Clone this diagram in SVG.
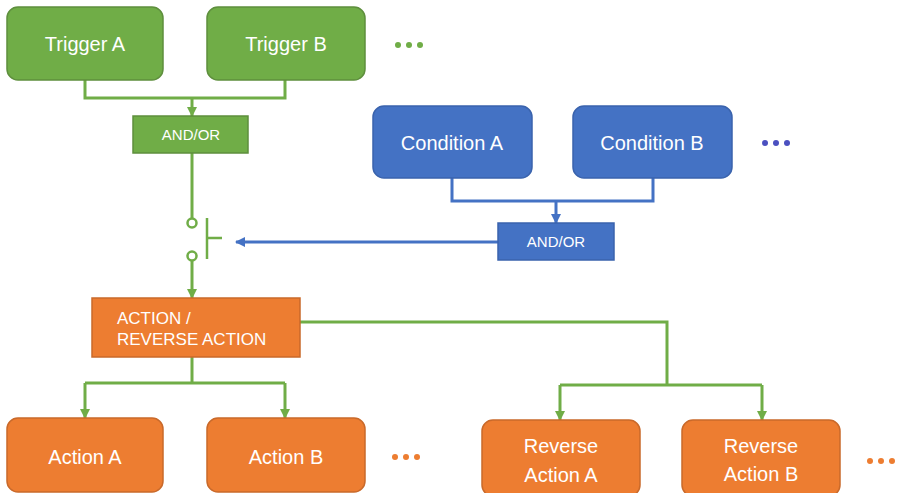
<svg xmlns="http://www.w3.org/2000/svg" width="901" height="493" viewBox="0 0 901 493">
<style>
text{font-family:"Liberation Sans",Arial,sans-serif;fill:#fff;text-anchor:middle}
.big{font-size:20px}
.sm{font-size:15px}
.g{fill:#70AD47;stroke:#5E8F3D;stroke-width:1.5}
.b{fill:#4472C4;stroke:#3A63AD;stroke-width:1.5}
.o{fill:#ED7D31;stroke:#C9692A;stroke-width:1.5}
.gl{fill:none;stroke:#70AD47;stroke-width:3}
.bl{fill:none;stroke:#4472C4;stroke-width:3}
</style>
<defs>
<marker id="ag" viewBox="0 0 10 10" refX="9" refY="5" markerWidth="3.4" markerHeight="3.4" markerUnits="strokeWidth" orient="auto"><path d="M0,0L10,5L0,10Z" fill="#70AD47"/></marker>
<marker id="ab" viewBox="0 0 10 10" refX="9" refY="5" markerWidth="3.4" markerHeight="3.4" markerUnits="strokeWidth" orient="auto"><path d="M0,0L10,5L0,10Z" fill="#4472C4"/></marker>
</defs>
<rect width="901" height="493" fill="#fff"/>
<g id="connectors">
<path class="gl" d="M85,80V98H285V80"/>
<path class="gl" d="M192,98V116" marker-end="url(#ag)"/>
<path class="gl" d="M192,153V219"/>
<circle cx="192" cy="223" r="4.5" fill="#fff" stroke="#70AD47" stroke-width="2.5"/>
<circle cx="192" cy="256" r="4.5" fill="#fff" stroke="#70AD47" stroke-width="2.5"/>
<path class="gl" d="M192,260.5V298" marker-end="url(#ag)"/>
<path d="M207,218V259M207,238H222" fill="none" stroke="#70AD47" stroke-width="2.5"/>
<path class="bl" d="M452,178V201H653V178"/>
<path class="bl" d="M556,201V223" marker-end="url(#ab)"/>
<path class="bl" d="M498,242H236" marker-end="url(#ab)"/>
<path class="gl" d="M192,357V383"/>
<path class="gl" d="M85,383H285"/>
<path class="gl" d="M85,383V418" marker-end="url(#ag)"/>
<path class="gl" d="M285,383V418" marker-end="url(#ag)"/>
<path class="gl" d="M300,322H667V385"/>
<path class="gl" d="M560,385H762"/>
<path class="gl" d="M560,385V420" marker-end="url(#ag)"/>
<path class="gl" d="M762,385V420" marker-end="url(#ag)"/>
</g>
<g id="triggerA"><rect class="g" x="7" y="7" width="156" height="73" rx="11"/><text class="big" x="85" y="51">Trigger A</text></g>
<g id="triggerB"><rect class="g" x="207" y="7" width="158" height="73" rx="11"/><text class="big" x="286" y="51">Trigger B</text></g>
<g id="triggerDots" fill="#70AD47"><circle cx="398" cy="45" r="3"/><circle cx="409" cy="45" r="3"/><circle cx="420" cy="45" r="3"/></g>
<g id="andorGreen"><rect class="g" x="133" y="116" width="115" height="37"/><text class="sm" x="191" y="140">AND/OR</text></g>
<g id="conditionA"><rect class="b" x="373" y="106" width="159" height="72" rx="11"/><text class="big" x="452" y="150">Condition A</text></g>
<g id="conditionB"><rect class="b" x="573" y="106" width="159" height="72" rx="11"/><text class="big" x="652" y="150">Condition B</text></g>
<g id="conditionDots" fill="#4B50C0"><circle cx="765" cy="143" r="3"/><circle cx="776" cy="143" r="3"/><circle cx="787" cy="143" r="3"/></g>
<g id="andorBlue"><rect class="b" x="498" y="223" width="116" height="37"/><text class="sm" x="556" y="247">AND/OR</text></g>
<g id="action"><rect class="o" x="92" y="298" width="208" height="59"/><text style="font-size:17px;text-anchor:start" x="117" y="324">ACTION /</text><text style="font-size:17px;text-anchor:start" x="117" y="345">REVERSE ACTION</text></g>
<g id="actionA"><rect class="o" x="7" y="418" width="156" height="74" rx="11"/><text class="big" x="85" y="464">Action A</text></g>
<g id="actionB"><rect class="o" x="207" y="418" width="158" height="74" rx="11"/><text class="big" x="286" y="464">Action B</text></g>
<g id="actionDots" fill="#ED7D31"><circle cx="395" cy="457" r="3"/><circle cx="406" cy="457" r="3"/><circle cx="417" cy="457" r="3"/></g>
<g id="reverseA"><rect class="o" x="482" y="420" width="158" height="76" rx="11"/><text class="big" x="561" y="453">Reverse</text><text class="big" x="561" y="482">Action A</text></g>
<g id="reverseB"><rect class="o" x="682" y="420" width="158" height="76" rx="11"/><text class="big" x="761" y="453">Reverse</text><text class="big" x="761" y="481">Action B</text></g>
<g id="reverseDots" fill="#ED7D31"><circle cx="870" cy="461" r="3"/><circle cx="881" cy="461" r="3"/><circle cx="892" cy="461" r="3"/></g>
</svg>
